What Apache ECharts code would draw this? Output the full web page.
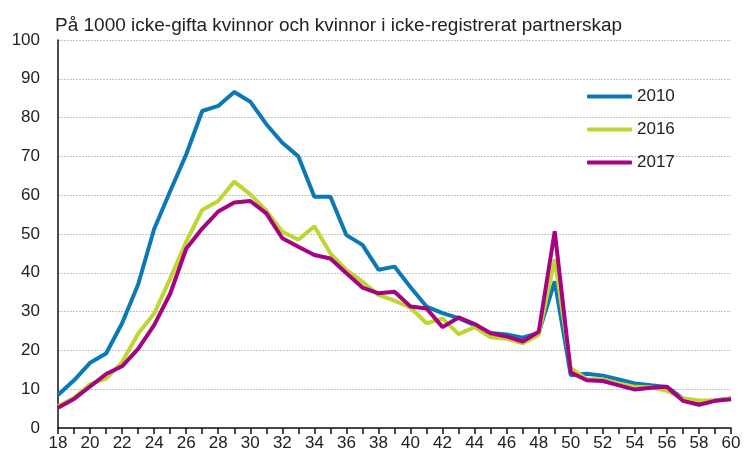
<!DOCTYPE html>
<html>
<head>
<meta charset="utf-8">
<script src="https://cdn.jsdelivr.net/npm/echarts@6/dist/echarts.min.js"></script>
<style>
  html, body { margin: 0; padding: 0; background: #fff; }
  #chart { width: 746px; height: 454px; }
</style>
</head>
<body>
<div id="chart"></div>
<script>
  // ages 18..60
  var ages = [];
  for (var a = 18; a <= 60; a++) ages.push(String(a));

  var v2010 = [8.5, 12.3, 16.8, 19.2, 27, 37, 51.3, 61, 70.5, 81.7, 83, 86.6, 84.1, 78.3, 73.5, 70, 59.6, 59.6, 49.7, 47.2, 40.8, 41.6, 36.3, 31.3, 29.6, 28.3, 26.5, 24.5, 24.1, 23.3, 24.5, 37.8, 13.6, 14, 13.5, 12.5, 11.5, 11, 10.6, 7.6, 6.8, 7.1, 7.6];
  var v2016 = [5.6, 7.8, 11.3, 12.7, 17, 24.3, 29.5, 38.5, 48, 56.2, 58.5, 63.5, 60.2, 56, 50.6, 48.5, 52, 45, 40.7, 37.7, 34.3, 32.8, 31, 27, 28.2, 24.2, 26, 23.4, 23, 21.8, 24, 43.5, 15.4, 12.6, 12.5, 11.5, 10.6, 10.5, 9.6, 7.6, 7.1, 7.1, 7.6];
  var v2017 = [5.2, 7.5, 10.7, 13.9, 15.9, 20.4, 26.5, 34.6, 46.2, 51.4, 55.8, 58.1, 58.5, 55.3, 48.9, 46.7, 44.6, 43.7, 39.9, 36.2, 34.7, 35.1, 31.3, 30.8, 26, 28.5, 26.8, 24.4, 23.6, 22.3, 24.8, 50.7, 14.3, 12.3, 12.1, 11, 9.9, 10.4, 10.6, 7, 6, 7, 7.4];

  var seriesNames = ['2010', '2016', '2017'];
  var seriesColors = ['#0b79b6', '#bed62f', '#a5037f'];
  var seriesData = [v2010, v2016, v2017];

  var chart = echarts.init(document.getElementById('chart'));
  chart.setOption({
    animation: false,
    textStyle: { fontFamily: 'Arial, "Liberation Sans", sans-serif' },
    title: {
      text: 'På 1000 icke-gifta kvinnor och kvinnor i icke-registrerat partnerskap',
      left: 50,
      top: 11,
      textStyle: { fontSize: 19, fontWeight: 'normal', color: '#222' }
    },
    legend: {
      orient: 'vertical',
      left: 582,
      top: 83,
      itemWidth: 45,
      itemHeight: 4,
      itemGap: 16,
      icon: 'roundRect',
      data: seriesNames,
      textStyle: { fontSize: 17, color: '#222' }
    },
    grid: { left: 58, right: 15, top: 40, bottom: 26 },
    xAxis: {
      type: 'category',
      boundaryGap: false,
      data: ages,
      axisLine: { lineStyle: { color: '#111', width: 1.5 } },
      axisTick: { interval: 0, length: 6, lineStyle: { color: '#111', width: 1.5 } },
      axisLabel: { interval: 1, fontSize: 17, color: '#222', margin: 7 },
      splitLine: { show: false }
    },
    yAxis: {
      type: 'value',
      min: 0,
      max: 100,
      interval: 10,
      axisLine: { show: true, lineStyle: { color: '#111', width: 1.5 } },
      axisTick: { show: false },
      axisLabel: { fontSize: 17, color: '#222', margin: 18 },
      splitLine: { lineStyle: { color: '#c4c4c4', type: [2, 1], width: 1 } }
    },
    series: seriesNames.map(function (name, i) {
      return {
        name: name,
        type: 'line',
        data: seriesData[i],
        symbol: 'none',
        color: seriesColors[i],
        lineStyle: { width: 4, color: seriesColors[i] }
      };
    })
  });
</script>
</body>
</html>
